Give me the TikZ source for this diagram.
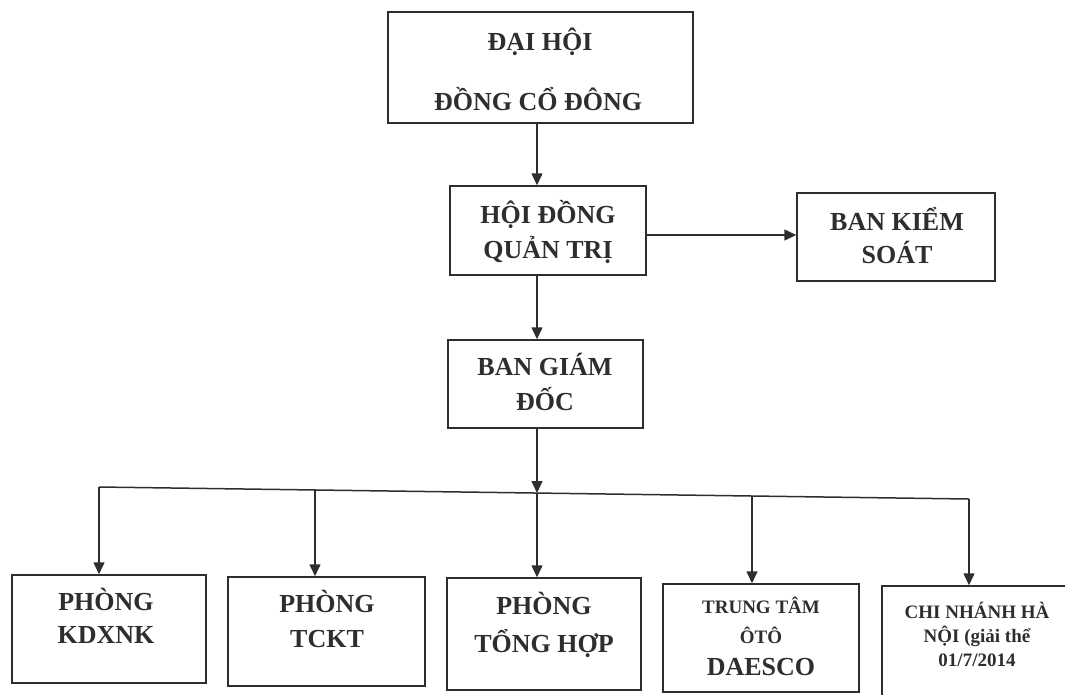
\documentclass[tikz,border=0pt]{standalone}
\usepackage{fontspec}
\setmainfont{Liberation Serif}
\usetikzlibrary{arrows.meta}
\definecolor{ink}{HTML}{2E2E2E}
\newcommand\tline[4]{\node[#1] (#2) at (#3) {#4};}
\begin{document}
\begin{tikzpicture}[x=1pt,y=-1pt,
  box/.style={draw=ink, line width=1.5pt, inner sep=0pt, rectangle},
  txt/.style={anchor=base, inner sep=0pt, text=ink, font=\bfseries\fontsize{26}{30}\selectfont},
  small/.style={anchor=base, inner sep=0pt, text=ink, font=\bfseries\fontsize{19}{22}\selectfont},
  arr/.style={draw=ink, line width=1.5pt, -{Triangle[length=12pt,width=11pt]}},
  ln/.style={draw=ink, line width=1.5pt}]
\useasboundingbox (0,0) rectangle (1065,694);
\clip (0,0) rectangle (1065,694);
% boxes
\node[box, minimum width=305pt, minimum height=111pt] (A) at (540.5,67.5) {};
\node[box, minimum width=196pt, minimum height=89pt] (B) at (548,230.5) {};
\node[box, minimum width=198pt, minimum height=88pt] (C) at (896,237) {};
\node[box, minimum width=195pt, minimum height=88pt] (D) at (545.5,384) {};
\node[box, minimum width=194pt, minimum height=108pt] (b1) at (109,629) {};
\node[box, minimum width=197pt, minimum height=109pt] (b2) at (326.5,631.5) {};
\node[box, minimum width=194pt, minimum height=112pt] (b3) at (544,634) {};
\node[box, minimum width=196pt, minimum height=108pt] (b4) at (761,638) {};
\node[box, minimum width=188pt, minimum height=114pt] (b5) at (976,643) {};
% texts
\tline{txt}{tA1}{540,50}{ĐẠI HỘI}
\tline{txt}{tA2}{538,110}{ĐỒNG CỔ ĐÔNG}
\tline{txt}{tB1}{548,223}{HỘI ĐỒNG}
\tline{txt}{tB2}{548,258}{QUẢN TRỊ}
\tline{txt}{tC1}{897,230}{BAN KIỂM}
\tline{txt}{tC2}{897,263}{SOÁT}
\tline{txt}{tD1}{545,375}{BAN GIÁM}
\tline{txt}{tD2}{545,410}{ĐỐC}
\tline{txt}{t11}{106,610}{PHÒNG}
\tline{txt}{t12}{106,643}{KDXNK}
\tline{txt}{t21}{327,612}{PHÒNG}
\tline{txt}{t22}{327,647}{TCKT}
\tline{txt}{t31}{544,614}{PHÒNG}
\tline{txt}{t32}{544,652}{TỔNG HỢP}
\tline{small}{t41}{761,613}{TRUNG TÂM}
\tline{small}{t42}{761,643}{ÔTÔ}
\tline{txt}{t43}{761,675}{DAESCO}
\tline{small}{t51}{977,618}{CHI NHÁNH HÀ}
\tline{small}{t52}{977,642}{NỘI (giải thể}
\tline{small}{t53}{977,666}{01/7/2014}
% connectors
\coordinate (spine) at (537,0);
\coordinate (hz) at (0,235);
\draw[arr] (spine |- A.south) -- (spine |- B.north);
\draw[arr] (spine |- B.south) -- (spine |- D.north);
\draw[arr] (B.east |- hz) -- (C.west |- hz);
\coordinate (j1) at (99,487);
\coordinate (j2) at (315,490);
\coordinate (j3) at (537,493);
\coordinate (j4) at (752,496);
\coordinate (j5) at (969,499);
\draw[ln] (j1) -- (j5);
\draw[arr] (spine |- D.south) -- (j3);
\draw[arr] (j1) -- (j1 |- b1.north);
\draw[arr] (j2) -- (j2 |- b2.north);
\draw[arr] (j3) -- (j3 |- b3.north);
\draw[arr] (j4) -- (j4 |- b4.north);
\draw[arr] (j5) -- (j5 |- b5.north);
\end{tikzpicture}
\end{document}
